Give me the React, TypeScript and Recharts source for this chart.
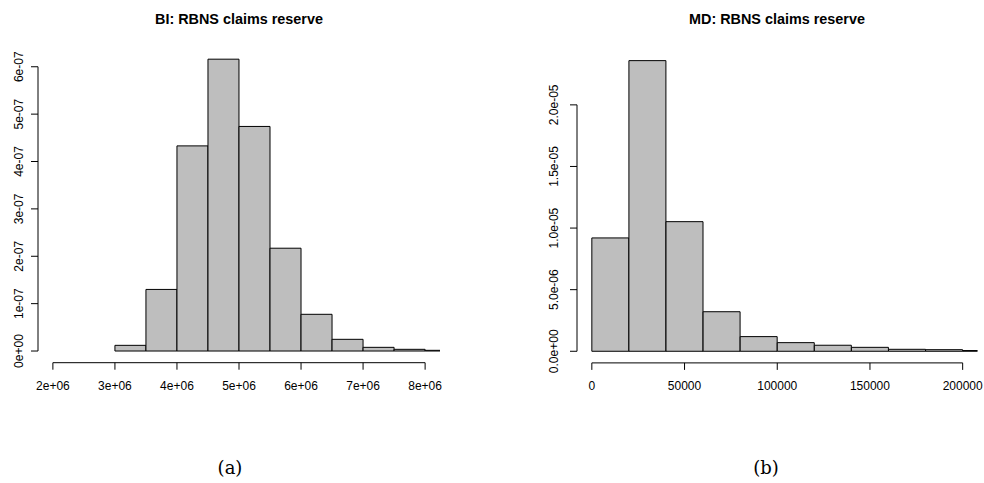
import React from 'react';
import { BarChart, Bar, XAxis, YAxis, ReferenceLine } from 'recharts';

// BI panel: histogram bins (density scale)
const biBinLow = [3000000, 3500000, 4000000, 4500000, 5000000, 5500000, 6000000, 6500000, 7000000, 7500000, 8000000];
const biBinHigh = [3500000, 4000000, 4500000, 5000000, 5500000, 6000000, 6500000, 7000000, 7500000, 8000000, 8500000];
const biDensity = [1.2e-8, 1.3e-7, 4.33e-7, 6.16e-7, 4.74e-7, 2.17e-7, 7.75e-8, 2.47e-8, 7.8e-9, 3.6e-9, 1.5e-9];
const biXTicks = [2000000, 3000000, 4000000, 5000000, 6000000, 7000000, 8000000];
const biXLabels = ['2e+06', '3e+06', '4e+06', '5e+06', '6e+06', '7e+06', '8e+06'];
const biYTicks = [0, 1e-7, 2e-7, 3e-7, 4e-7, 5e-7, 6e-7];
const biYLabels = ['0e+00', '1e-07', '2e-07', '3e-07', '4e-07', '5e-07', '6e-07'];

// MD panel
const mdBinLow = [0, 20000, 40000, 60000, 80000, 100000, 120000, 140000, 160000, 180000, 200000];
const mdBinHigh = [20000, 40000, 60000, 80000, 100000, 120000, 140000, 160000, 180000, 200000, 220000];
const mdDensity = [9.2e-6, 2.359e-5, 1.052e-5, 3.21e-6, 1.19e-6, 7.0e-7, 4.9e-7, 3.2e-7, 1.6e-7, 1.3e-7, 6e-8];
const mdXTicks = [0, 50000, 100000, 150000, 200000];
const mdXLabels = ['0', '50000', '100000', '150000', '200000'];
const mdYTicks = [0, 5e-6, 1e-5, 1.5e-5, 2e-5];
const mdYLabels = ['0.0e+00', '5.0e-06', '1.0e-05', '1.5e-05', '2.0e-05'];

const FONT = '"Liberation Sans", Arial, Helvetica, sans-serif';

const toRows = (lo: number[], hi: number[], dens: number[]) =>
  lo.map((l, i) => ({ mid: (l + hi[i]) / 2, density: dens[i] }));

const labelFor = (ticks: number[], labels: string[], v: number) => {
  const i = ticks.findIndex((t) => Math.abs(t - v) <= Math.abs(t) * 1e-9 + 1e-20);
  return i >= 0 ? labels[i] : String(v);
};

interface PanelProps {
  rows: { mid: number; density: number }[];
  xTicks: number[];
  xLabels: string[];
  yTicks: number[];
  yLabels: string[];
  xDomain: [number, number];
  yDomain: [number, number];
  left: number;
  yAxisWidth: number;
  yGap: number;
  margin: { top: number; right: number; bottom: number; left: number };
}

const Panel = (p: PanelProps) => {
  const XTick = (props: any) => (
    <text x={props.x} y={props.y} dy="0.71em" textAnchor="middle" fontSize={12} fontFamily={FONT} fill="#000">
      {labelFor(p.xTicks, p.xLabels, props.payload.value)}
    </text>
  );
  const YTick = (props: any) => (
    <text
      x={props.x}
      y={props.y}
      dy="0.35em"
      textAnchor="middle"
      fontSize={12}
      fontFamily={FONT}
      fill="#000"
      transform={`rotate(-90, ${props.x}, ${props.y})`}
    >
      {labelFor(p.yTicks, p.yLabels, props.payload.value)}
    </text>
  );
  return (
    <div style={{ position: 'absolute', left: p.left, top: 0 }}>
      <BarChart width={492} height={420} data={p.rows} margin={p.margin} barCategoryGap={0} barGap={0}>
        <XAxis
          dataKey="mid"
          type="number"
          domain={p.xDomain}
          allowDataOverflow
          ticks={p.xTicks}
          interval={0}
          height={40}
          axisLine={false}
          tickLine={{ stroke: '#000' }}
          tickSize={7}
          tickMargin={12}
          tick={XTick}
        />
        <YAxis
          type="number"
          domain={p.yDomain}
          allowDataOverflow
          ticks={p.yTicks}
          interval={0}
          width={p.yAxisWidth}
          axisLine={false}
          tickLine={{ stroke: '#000' }}
          tickSize={7}
          tickMargin={p.yGap}
          tick={YTick}
        />
        <Bar dataKey="density" fill="#BEBEBE" stroke="#000" strokeWidth={1} isAnimationActive={false} />
        <ReferenceLine
          segment={[
            { x: p.xTicks[0], y: p.yDomain[0] },
            { x: p.xTicks[p.xTicks.length - 1], y: p.yDomain[0] },
          ]}
          stroke="#000"
          ifOverflow="visible"
        />
        <ReferenceLine
          segment={[
            { x: p.xDomain[0], y: p.yTicks[0] },
            { x: p.xDomain[0], y: p.yTicks[p.yTicks.length - 1] },
          ]}
          stroke="#000"
          ifOverflow="visible"
        />
      </BarChart>
    </div>
  );
};

export default function App() {
  return (
    <div style={{ position: 'absolute', left: 0, top: 0, width: 984, height: 483, background: '#fff', overflow: 'hidden' }}>
      <Panel
        rows={toRows(biBinLow, biBinHigh, biDensity)}
        xTicks={biXTicks}
        xLabels={biXLabels}
        yTicks={biYTicks}
        yLabels={biYLabels}
        xDomain={[1760000, 8240000]}
        yDomain={[-2.464e-8, 6.4064e-7]}
        left={0}
        yAxisWidth={38}
        yGap={12}
        margin={{ top: 47.5, right: 52, bottom: 17.3, left: 0 }}
      />
      <Panel
        rows={toRows(mdBinLow, mdBinHigh, mdDensity)}
        xTicks={mdXTicks}
        xLabels={mdXLabels}
        yTicks={mdYTicks}
        yLabels={mdYLabels}
        xDomain={[-8000, 208000]}
        yDomain={[-9.436e-7, 2.4534e-5]}
        left={492}
        yAxisWidth={85}
        yGap={16}
        margin={{ top: 49, right: 6.5, bottom: 17.1, left: 0 }}
      />
      <svg width={984} height={483} style={{ position: 'absolute', left: 0, top: 0, pointerEvents: 'none' }}>
        <text x={239} y={23.5} textAnchor="middle" fontFamily={FONT} fontWeight="bold" fontSize={14.4} fill="#000">
          BI: RBNS claims reserve
        </text>
        <text x={777} y={23.5} textAnchor="middle" fontFamily={FONT} fontWeight="bold" fontSize={14.4} fill="#000">
          MD: RBNS claims reserve
        </text>
        <text x={230} y={474} textAnchor="middle" fontFamily='"DejaVu Serif", "Liberation Serif", serif' fontSize={18} fill="#000">
          (a)
        </text>
        <text x={766} y={474} textAnchor="middle" fontFamily='"DejaVu Serif", "Liberation Serif", serif' fontSize={18} fill="#000">
          (b)
        </text>
      </svg>
    </div>
  );
}
